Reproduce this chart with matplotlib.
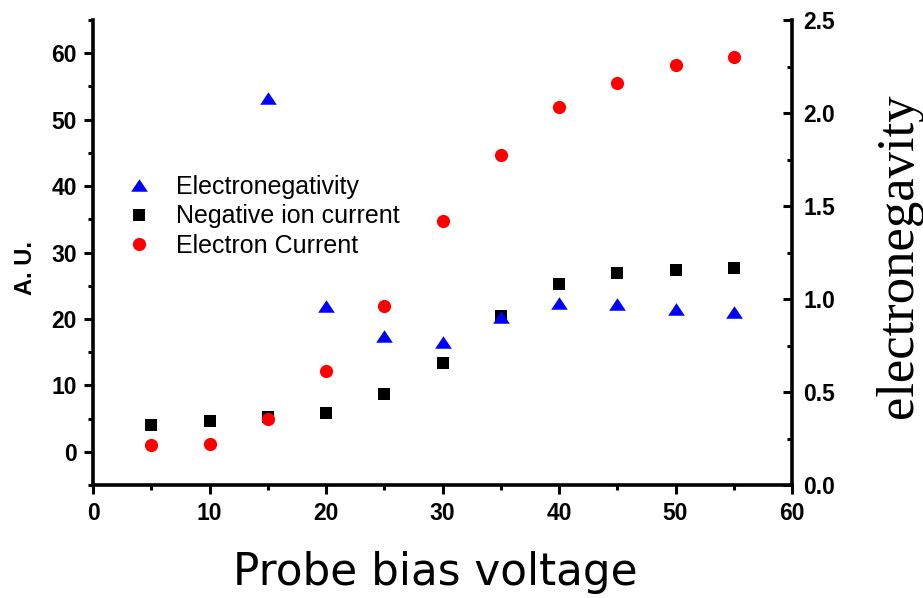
import matplotlib
matplotlib.use("Agg")
import matplotlib.pyplot as plt
from matplotlib.ticker import MultipleLocator

# ---- data ----
voltage = [5, 10, 15, 20, 25, 30, 35, 40, 45, 50, 55]
negative_ion_current = [4.07, 4.57, 5.3, 5.82, 8.69, 13.3, 20.4, 25.3, 26.9, 27.4, 27.7]
electron_current = [0.95, 1.16, 4.92, 12.1, 21.9, 34.8, 44.7, 51.9, 55.5, 58.3, 59.4]
eneg_voltage = [15, 20, 25, 30, 35, 40, 45, 50, 55]
electronegativity = [2.08, 0.96, 0.80, 0.77, 0.905, 0.98, 0.973, 0.945, 0.932]

x_ticks = [0, 10, 20, 30, 40, 50, 60]
left_ticks = [0, 10, 20, 30, 40, 50, 60]
right_ticks = [0.0, 0.5, 1.0, 1.5, 2.0, 2.5]

labels = ["Electronegativity", "Negative ion current", "Electron Current"]

W, H = 923, 598
fig = plt.figure(figsize=(W / 100, H / 100), dpi=100)
ax = fig.add_axes([93 / W, 1 - 485 / H, (792 - 93) / W, (485 - 20) / H])
ax2 = ax.twinx()

tri = [(-1, -0.75), (1, -0.75), (0, 0.75), (-1, -0.75)]

h_sq, = ax.plot(voltage, negative_ion_current, linestyle="none", marker="s",
                color="black", markersize=8, markeredgewidth=0, zorder=3)
h_ci, = ax.plot(voltage, electron_current, linestyle="none", marker="o",
                color="#ff0000", markersize=9.5, markeredgewidth=0, zorder=4)
h_tr, = ax2.plot(eneg_voltage, electronegativity, linestyle="none", marker=tri,
                 color="#0000ff", markersize=12, markeredgewidth=0, zorder=5)

ax.set_xlim(0, 60)
ax.set_ylim(-5, 65)
ax2.set_ylim(0, 2.5)

ax.set_xticks(x_ticks)
ax.set_yticks(left_ticks)
ax2.set_yticks(right_ticks)
ax2.set_yticklabels([f"{v:.1f}" for v in right_ticks])
ax.xaxis.set_minor_locator(MultipleLocator(5))
ax.yaxis.set_minor_locator(MultipleLocator(5))
ax2.yaxis.set_minor_locator(MultipleLocator(0.25))

lw = 2.6
for a in (ax, ax2):
    a.spines["top"].set_visible(False)
    for s in ("left", "bottom", "right"):
        a.spines[s].set_linewidth(lw)
ax.spines["right"].set_visible(False)
ax2.spines["left"].set_visible(False)
ax2.spines["bottom"].set_visible(False)

tick_font = dict(family="Liberation Sans", weight="bold", size=16.5)
ax.tick_params(axis="both", which="major", direction="out", length=6.5, width=2.2, pad=5)
ax.tick_params(axis="both", which="minor", direction="out", length=3.5, width=2.2)
ax.tick_params(axis="x", which="major", pad=6)
ax.tick_params(axis="y", which="both", right=False)
ax.tick_params(axis="x", which="both", top=False)
ax2.tick_params(axis="y", which="major", direction="in", length=6.5, width=2.2, pad=8)
ax2.tick_params(axis="y", which="minor", direction="in", length=3.5, width=2.2)
for lab in ax.get_xticklabels() + ax.get_yticklabels() + ax2.get_yticklabels():
    lab.set_fontproperties(tick_font)
    lab.set_fontweight("bold")

# axis titles
fig.text(32 / W, 1 - 268 / H, "A. U.", rotation=90, rotation_mode="anchor",
         ha="center", va="baseline", family="Liberation Sans", weight="bold", fontsize=17)
fig.text(912 / W, 1 - 256 / H, "electronegavity", rotation=90, rotation_mode="anchor",
         ha="center", va="baseline", family="Liberation Serif", fontsize=38)
fig.text(435 / W, 1 - 585 / H, "Probe bias voltage", ha="center", va="baseline",
         family="DejaVu Sans", fontsize=31.5)

fig.legend([h_tr, h_sq, h_ci], labels, loc="upper left",
           bbox_to_anchor=(128 / W, 1 - 175 / H), frameon=False,
           prop=dict(family="Liberation Sans", size=18),
           handlelength=0.9, handletextpad=1.0, labelspacing=0.22,
           borderpad=0, borderaxespad=0)

fig.savefig("out.png", dpi=100)
